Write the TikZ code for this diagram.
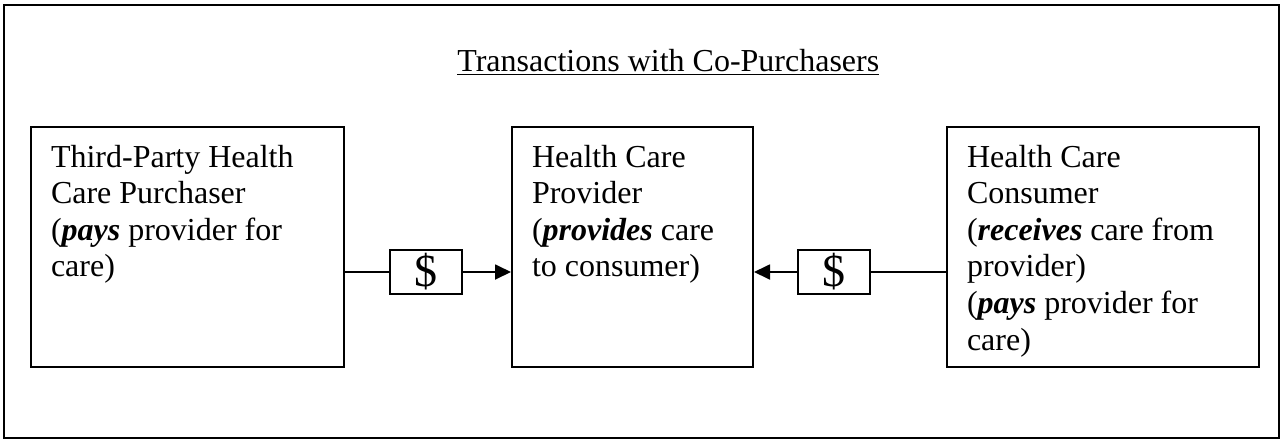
\documentclass[tikz,border=0pt]{standalone}
\usepackage{fontspec}
\setmainfont{Liberation Serif}
\usepackage{tikz}
\usetikzlibrary{arrows.meta, positioning}
\tikzstyle{party} = [rectangle, draw=black, line width=1pt, inner xsep=10pt, inner ysep=0pt, font=\fontsize{16}{18.3}\selectfont]
\tikzstyle{money} = [rectangle, draw=black, line width=1pt, minimum width=36pt, minimum height=22pt, inner sep=0pt, font=\fontsize{23}{23}\selectfont]
\tikzstyle{link} = [line width=0.9pt]
\tikzstyle{arrow} = [line width=0.9pt,-{Triangle[length=8pt,width=7.5pt]}]
\newcommand{\partytext}[2]{\parbox[c][120pt][t]{#1}{\rule{0pt}{20pt}#2}}

\begin{document}
\begin{tikzpicture}[x=0.5pt, y=-0.5pt, node distance=1cm]
            \useasboundingbox (0,0) rectangle (1285,440);
            \draw[line width=1.2pt] (4,5) rectangle (1279,438);
            \node[anchor=base west, inner sep=0pt, font=\fontsize{16}{18.3}\selectfont] (title) at (457,71) {\underline{Transactions with Co-Purchasers}};
            \node[party, anchor=north west] (purchaser) at (30,126) {\partytext{136.5pt}{Third-Party Health\\Care Purchaser\\(\textbf{\textit{pays}} provider for\\care)}};
            \node[party, right=83pt of purchaser] (provider) {\partytext{100.5pt}{Health Care\\Provider\\(\textbf{\textit{provides}} care\\to consumer)}};
            \node[party, right=96pt of provider] (consumer) {\partytext{136pt}{Health Care\\Consumer\\(\textbf{\textit{receives}} care from\\provider)\\(\textbf{\textit{pays}} provider for\\care)}};
            \node[money] (pay1) at (426,272) {\$};
            \node[money] (pay2) at (834,272) {\$};
            
            \draw[link] (purchaser.east |- pay1) -- (pay1);
            \draw[arrow] (pay1) -- (provider.west |- pay1);
            \draw[link] (consumer.west |- pay2) -- (pay2);
            \draw[arrow] (pay2) -- (provider.east |- pay2);
        \end{tikzpicture}
\end{document}
